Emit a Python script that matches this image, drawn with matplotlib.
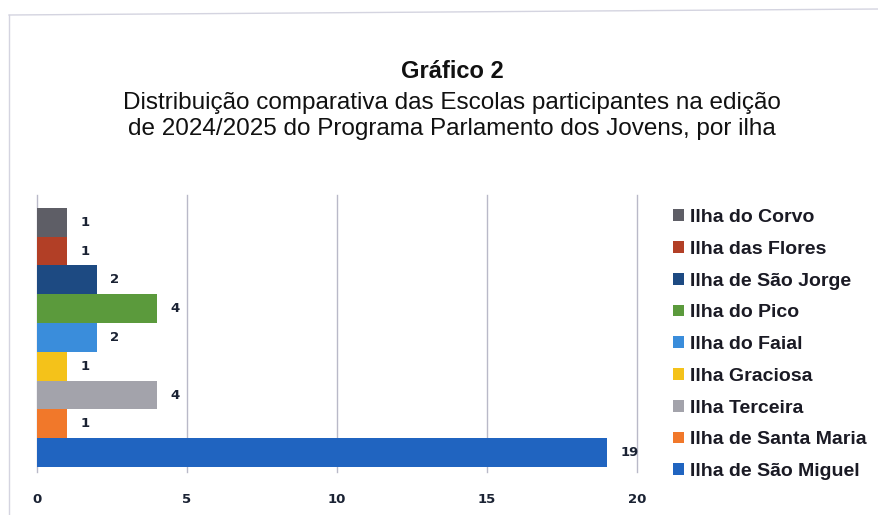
import matplotlib
matplotlib.use("Agg")
import matplotlib.pyplot as plt
from matplotlib.lines import Line2D

# data
islands = [
    "Ilha do Corvo",
    "Ilha das Flores",
    "Ilha de São Jorge",
    "Ilha do Pico",
    "Ilha do Faial",
    "Ilha Graciosa",
    "Ilha Terceira",
    "Ilha de Santa Maria",
    "Ilha de São Miguel",
]
schools = [1, 1, 2, 4, 2, 1, 4, 1, 19]
colors = [
    "#5e5e66",
    "#b23f26",
    "#1d4a82",
    "#5b9a3c",
    "#3a8ddb",
    "#f4c21a",
    "#a3a3ab",
    "#f1782a",
    "#2064c0",
]
ticks = [0, 5, 10, 15, 20]

title = "Gráfico 2"
subtitle = ("Distribuição comparativa das Escolas participantes na edição\n"
            "de 2024/2025 do Programa Parlamento dos Jovens, por ilha")

plt.rcParams["font.family"] = ["Liberation Sans", "DejaVu Sans"]

fig = plt.figure(figsize=(8.79, 5.15), dpi=100)
ax = fig.add_axes([0.0421, 0.0835, 0.6826, 0.538])

n = len(islands)
for i, (name, val, col) in enumerate(zip(islands, schools, colors)):
    y = n - 1 - i
    ax.barh(y, val, height=1.0, color=col, label=name, zorder=2)
    ax.annotate(str(val), (val, y), xytext=(9.5, 0),
                textcoords="offset points", ha="left", va="center",
                fontsize=9.5, fontweight="bold", color="#1a2233",
                family="DejaVu Sans")

ax.set_xlim(ticks[0], ticks[-1])
ax.set_ylim(-0.67, n - 0.05)
ax.set_xticks(ticks)
ax.set_yticks([])
ax.xaxis.grid(True, color="#b9b9c8", lw=1)
for g in ax.get_xgridlines():
    g.set_clip_on(False)
ax.set_axisbelow(True)
for s in ax.spines.values():
    s.set_visible(False)
ax.tick_params(axis="x", length=0, pad=15)
for t in ax.get_xticklabels():
    t.set_fontfamily("DejaVu Sans")
    t.set_fontweight("bold")
    t.set_fontsize(9.5)
    t.set_color("#1a2233")

leg = ax.legend(loc="upper left", frameon=False,
                prop={"size": 14, "weight": "bold"},
                handlelength=0.55, handleheight=0.55, handletextpad=0.35,
                labelspacing=0.76, borderpad=0, borderaxespad=0)
leg.set_bbox_to_anchor((673 / 879, 1 - 209 / 515), transform=fig.transFigure)
for t in leg.get_texts():
    t.set_color("#1a1a24")

fig.text(452 / 879, 1 - 72 / 515, title, ha="center", va="center",
         fontsize=17, fontweight="bold", color="#111111")
fig.text(452 / 879, 1 - 116 / 515, subtitle, ha="center", va="center",
         fontsize=17.5, color="#111111", linespacing=1.27)

# faint outer frame of the chart area
fig.add_artist(Line2D([9 / 879, 1], [1 - 15 / 515, 1 - 9 / 515],
                      transform=fig.transFigure, color="#d4d4e0", lw=1))
fig.add_artist(Line2D([9 / 879, 9 / 879], [1 - 15 / 515, 0],
                      transform=fig.transFigure, color="#d4d4e0", lw=1))

fig.savefig("out.png", dpi=100)
